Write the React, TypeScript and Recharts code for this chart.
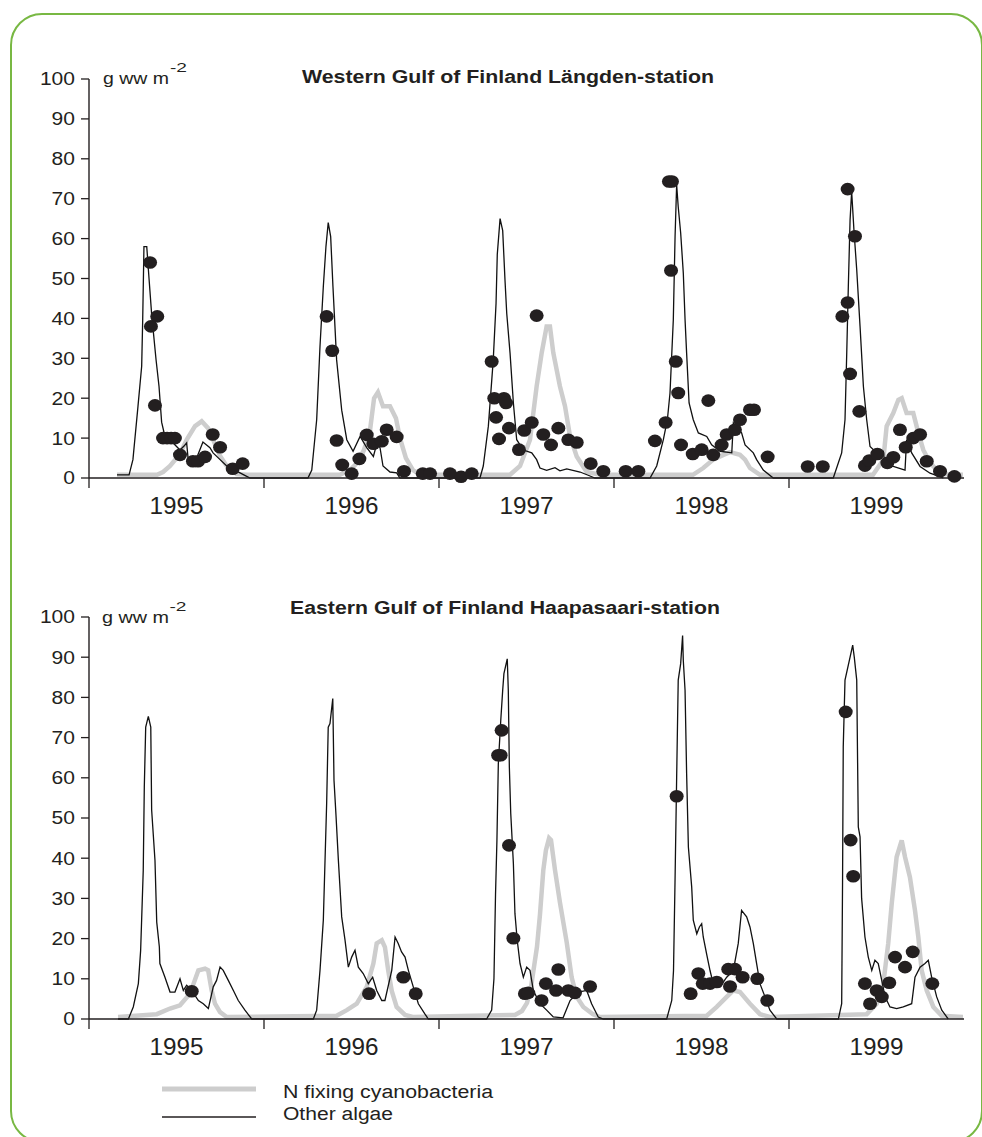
import React from "react";
import { ComposedChart, Line, Scatter, XAxis, YAxis } from "recharts";

// x values are years since 1 Jan 1995 (0 = start of 1995, 5 = end of 1999)
const years = ["1995", "1996", "1997", "1998", "1999"];
const yearTicks = [0, 0.5, 1, 1.5, 2, 2.5, 3, 3.5, 4, 4.5];
const valueTicks = [0, 10, 20, 30, 40, 50, 60, 70, 80, 90, 100];

// Western Gulf of Finland, Längden-station
const westOther = [
  [0.16, 0.8], [0.229, 0.8], [0.251, 4.6], [0.28, 18], [0.301, 28], [0.307, 40], [0.314, 58], [0.33, 58],
  [0.343, 50], [0.358, 41], [0.383, 29.7], [0.4, 23], [0.415, 14], [0.434, 10.4], [0.463, 9.6], [0.52, 7],
  [0.543, 8], [0.558, 8.8], [0.566, 5], [0.615, 5], [0.651, 9], [0.691, 7.6], [0.709, 6.3], [0.749, 4.6],
  [0.787, 3], [0.863, 1.3], [0.92, 0],
  [1.251, 0], [1.273, 2], [1.301, 14.6], [1.32, 33], [1.339, 48], [1.354, 58], [1.367, 64], [1.381, 60.5],
  [1.394, 48], [1.415, 29.6], [1.444, 17], [1.473, 9.6], [1.509, 6.7], [1.549, 10.4], [1.587, 7.6],
  [1.625, 5.4], [1.644, 8.5], [1.663, 7.6], [1.68, 3], [1.72, 1.5], [1.758, 1.3], [1.777, 0],
  [2.234, 0], [2.253, 3], [2.282, 13], [2.31, 29.6], [2.326, 43.8], [2.333, 56], [2.349, 65], [2.364, 62],
  [2.377, 49.7], [2.387, 41.3], [2.406, 31.3], [2.425, 18.8], [2.444, 9.6], [2.482, 7], [2.53, 6.3],
  [2.558, 4.6], [2.577, 2.5], [2.615, 1.9], [2.663, 2.6], [2.691, 1.8], [2.73, 2.3], [2.806, 1.5],
  [2.863, 0.5], [2.891, 0],
  [3.206, 0], [3.244, 3], [3.282, 9.6], [3.305, 14.6], [3.32, 21.3], [3.339, 39.7], [3.349, 60.6],
  [3.358, 73.5], [3.367, 68], [3.381, 61.4], [3.396, 51.4], [3.406, 39.7], [3.415, 31.3], [3.429, 18.8],
  [3.453, 14.6], [3.482, 11.3], [3.53, 10.4], [3.558, 8.3], [3.606, 6.7], [3.673, 6.3], [3.682, 13.8],
  [3.729, 11.3], [3.749, 8.3], [3.796, 6.3], [3.815, 4.6], [3.853, 2], [3.91, 0],
  [4.253, 0], [4.301, 6.3], [4.32, 14.6], [4.33, 31.4], [4.339, 48], [4.349, 64.7], [4.358, 71.8],
  [4.371, 62.2], [4.387, 52.2], [4.406, 38], [4.425, 23], [4.444, 14.6], [4.463, 7.9], [4.501, 6.3],
  [4.539, 6.7], [4.549, 3], [4.596, 2.9], [4.663, 2], [4.672, 9.6], [4.701, 6.3], [4.749, 2.9],
  [4.806, 1.2], [4.882, 0],
];

const westCyano = [
  [0.16, 0.8], [0.389, 0.8], [0.423, 1.5], [0.463, 3], [0.52, 6], [0.558, 9.6], [0.606, 13], [0.644, 14.2],
  [0.68, 12.5], [0.709, 9.6], [0.749, 5.5], [0.787, 3], [0.844, 1], [0.9, 0.8],
  [1.434, 0.8], [1.491, 2], [1.537, 4], [1.571, 7], [1.606, 12], [1.629, 20], [1.651, 21.5], [1.68, 18],
  [1.72, 18], [1.754, 15], [1.777, 10], [1.811, 5], [1.851, 2], [1.891, 0.8],
  [2.406, 0.8], [2.463, 3], [2.52, 9.6], [2.558, 23], [2.587, 31.4], [2.615, 38], [2.634, 38],
  [2.653, 31.4], [2.691, 23], [2.72, 18], [2.749, 10.4], [2.787, 5.4], [2.844, 1.5], [2.92, 0.8],
  [3.451, 0.8], [3.51, 2.5], [3.567, 4.6], [3.625, 5.8], [3.663, 6.5], [3.72, 5.8], [3.749, 4.6],
  [3.777, 2.5], [3.834, 0.8],
  [4.48, 0.8], [4.539, 4.6], [4.558, 13], [4.596, 16.3], [4.625, 19.6], [4.644, 20], [4.672, 16.3],
  [4.71, 16.3], [4.739, 11.3], [4.767, 7.1], [4.787, 5.4], [4.825, 2.9], [4.882, 1], [4.994, 0.8],
];

const westSamples = [
  [0.349, 54], [0.354, 38], [0.39, 40.5], [0.377, 18.2], [0.423, 10], [0.446, 10], [0.469, 10], [0.491, 10],
  [0.52, 5.8], [0.594, 4.2], [0.623, 4.2], [0.663, 5.3], [0.707, 10.9], [0.749, 7.7], [0.821, 2.3], [0.878, 3.6],
  [1.358, 40.5], [1.39, 31.9], [1.415, 9.4], [1.447, 3.3], [1.501, 1.1], [1.545, 4.8], [1.587, 10.8],
  [1.625, 8.6], [1.673, 9.2], [1.701, 12.1], [1.758, 10.3], [1.8, 1.7], [1.907, 1.1], [1.949, 1.1],
  [2.063, 1.1], [2.126, 0.3], [2.187, 1.1], [2.301, 29.2], [2.316, 20], [2.371, 20], [2.383, 18.8],
  [2.326, 15.2], [2.343, 9.8], [2.4, 12.5], [2.457, 7.1], [2.487, 11.9], [2.53, 13.9], [2.558, 40.7],
  [2.596, 10.9], [2.64, 8.3], [2.682, 12.5], [2.739, 9.6], [2.787, 8.9], [2.867, 3.6], [2.939, 1.7],
  [3.067, 1.7], [3.139, 1.7], [3.234, 9.3], [3.295, 13.9], [3.314, 74.3], [3.331, 74.3], [3.326, 52],
  [3.353, 29.2], [3.367, 21.3], [3.383, 8.3], [3.45, 6], [3.501, 7.1], [3.539, 19.4], [3.567, 5.8],
  [3.615, 8.3], [3.644, 10.9], [3.691, 12.1], [3.72, 14.6], [3.777, 17.1], [3.8, 17.1], [3.878, 5.3],
  [4.107, 2.9], [4.193, 2.9], [4.335, 72.4], [4.377, 60.6], [4.335, 44], [4.305, 40.5], [4.349, 26.1],
  [4.402, 16.7], [4.434, 3.1], [4.459, 4.4], [4.505, 6], [4.562, 3.8], [4.596, 5.2], [4.634, 12.1],
  [4.667, 7.7], [4.71, 10], [4.749, 10.9], [4.787, 4.2], [4.863, 1.7], [4.945, 0.4],
];

// Eastern Gulf of Finland, Haapasaari-station
const eastOther = [
  [0.166, 0], [0.225, 0], [0.253, 3], [0.282, 8.8], [0.295, 17], [0.31, 37], [0.316, 57.7], [0.324, 72.6],
  [0.339, 75.3], [0.353, 72.6], [0.358, 52], [0.377, 39.5], [0.387, 24.1], [0.402, 17.9], [0.405, 13.8],
  [0.434, 10.4], [0.463, 6.7], [0.491, 6.7], [0.52, 10], [0.539, 7.1], [0.558, 8.4], [0.587, 7.1],
  [0.625, 4.6], [0.653, 3.8], [0.682, 2.6], [0.71, 8], [0.729, 9.6], [0.749, 12.9], [0.767, 12.1],
  [0.796, 9.6], [0.825, 7.1], [0.853, 4.6], [0.891, 2.2], [0.93, 0],
  [1.282, 0], [1.301, 2.2], [1.32, 12.1], [1.339, 24.6], [1.358, 53.6], [1.367, 72.6], [1.377, 73.5],
  [1.393, 79.7], [1.4, 59.4], [1.411, 51], [1.425, 39.5], [1.444, 25.4], [1.463, 19.6], [1.482, 12.9],
  [1.501, 15.4], [1.52, 17.1], [1.539, 12.9], [1.567, 11.3], [1.596, 8.8], [1.621, 10.4], [1.644, 7.1],
  [1.673, 4.6], [1.691, 4.6], [1.73, 12.1], [1.749, 20.4], [1.767, 18.8], [1.786, 16.7], [1.806, 15.4],
  [1.825, 12.1], [1.853, 8], [1.882, 3.8], [1.92, 1.2], [1.939, 0],
  [2.272, 0], [2.301, 2.2], [2.314, 10], [2.323, 31], [2.331, 44.4], [2.339, 63.5], [2.353, 74.3],
  [2.364, 81.8], [2.371, 85.9], [2.39, 89.6], [2.396, 81.8], [2.402, 62.7], [2.41, 51.1], [2.425, 38.7],
  [2.434, 26.2], [2.447, 19.6], [2.463, 13.8], [2.482, 10.4], [2.501, 12.9], [2.52, 12.1], [2.539, 7.1],
  [2.577, 3.8], [2.615, 2.2], [2.653, 0.5], [2.709, 0.3], [2.749, 4.6], [2.796, 6.7], [2.844, 7.1],
  [2.872, 3.8], [2.91, 0.5], [2.939, 0],
  [3.301, 0], [3.33, 4.6], [3.34, 12], [3.349, 35], [3.358, 60], [3.367, 84.3], [3.381, 88.4],
  [3.392, 95.4], [3.396, 89.2], [3.406, 81.8], [3.415, 61], [3.425, 42.8], [3.444, 32.8], [3.453, 24.6],
  [3.473, 21.2], [3.488, 22.9], [3.501, 23.7], [3.51, 20.4], [3.53, 16], [3.549, 12], [3.567, 8.8],
  [3.606, 8], [3.644, 10.4], [3.682, 12.1], [3.71, 18.8], [3.729, 27], [3.758, 25.4], [3.777, 22.9],
  [3.796, 18.8], [3.815, 13.8], [3.834, 8.8], [3.863, 5.5], [3.891, 2.2], [3.93, 0],
  [4.282, 0], [4.301, 3.8], [4.306, 34], [4.31, 67.7], [4.32, 84.3], [4.349, 90], [4.364, 93], [4.373, 90],
  [4.387, 84.3], [4.396, 47.8], [4.406, 45.3], [4.415, 30], [4.434, 20.4], [4.453, 15.4], [4.473, 12.1],
  [4.491, 14.6], [4.51, 13.8], [4.53, 9.6], [4.549, 5.5], [4.577, 3], [4.615, 2.6], [4.653, 3],
  [4.701, 3.8], [4.72, 10.4], [4.749, 12.9], [4.777, 13.8], [4.796, 14.6], [4.815, 10.4], [4.844, 5.5],
  [4.873, 2.2], [4.91, 0],
];

const eastCyano = [
  [0.166, 0.5], [0.387, 1.2], [0.463, 2.6], [0.52, 3.4], [0.577, 6.3], [0.625, 12.1], [0.663, 12.5],
  [0.681, 12.1], [0.701, 7.1], [0.72, 3.8], [0.749, 1.7], [0.787, 0.5],
  [1.415, 0.8], [1.473, 2.2], [1.53, 3.8], [1.587, 8], [1.625, 13.8], [1.644, 18.8], [1.673, 19.6],
  [1.691, 17.9], [1.71, 12], [1.73, 7], [1.758, 3], [1.806, 1], [1.85, 0.5],
  [2.434, 1], [2.474, 2], [2.503, 4], [2.526, 8], [2.543, 13], [2.56, 18], [2.577, 26], [2.596, 37],
  [2.611, 42], [2.629, 45], [2.64, 44.5], [2.663, 37], [2.691, 29], [2.73, 19], [2.758, 10.4],
  [2.787, 5.5], [2.825, 3], [2.88, 1.2], [2.92, 0.5],
  [3.53, 0.8], [3.587, 3], [3.644, 5.5], [3.682, 7.1], [3.72, 6.7], [3.777, 3.8], [3.834, 1.2], [3.891, 0.5],
  [4.444, 1.2], [4.501, 3.8], [4.539, 8.8], [4.567, 18.8], [4.587, 28.7], [4.615, 40.3], [4.644, 44.4],
  [4.663, 40.3], [4.691, 35.3], [4.72, 27], [4.739, 20.4], [4.758, 12.1], [4.787, 7.1], [4.825, 3],
  [4.873, 0.8], [4.994, 0.5],
];

const eastSamples = [
  [0.587, 6.9],
  [1.6, 6.3], [1.796, 10.4], [1.867, 6.3],
  [2.358, 71.8], [2.338, 65.6], [2.352, 65.6], [2.4, 43.2], [2.425, 20.1], [2.491, 6.3], [2.51, 6.5],
  [2.586, 4.6], [2.611, 8.8], [2.669, 7.1], [2.682, 12.3], [2.739, 7.1], [2.777, 6.5], [2.863, 8.1],
  [3.358, 55.4], [3.438, 6.3], [3.482, 11.3], [3.507, 8.8], [3.549, 8.8], [3.587, 9.2], [3.653, 12.4],
  [3.691, 12.4], [3.663, 8.1], [3.735, 10.4], [3.819, 10], [3.876, 4.6],
  [4.324, 76.4], [4.352, 44.5], [4.367, 35.5], [4.434, 8.8], [4.463, 3.8], [4.501, 7.1], [4.53, 5.5],
  [4.573, 9], [4.606, 15.4], [4.663, 12.9], [4.707, 16.7], [4.819, 8.8],
];

const FONT = '"Liberation Sans", Arial, Helvetica, sans-serif';
const INK = "#231f20";
const GREY = "#cdcdcd";

const toPoints = (arr: number[][]) => arr.map(([t, v]) => ({ t, v }));

// ticks at year boundaries, year label in the middle of each year
const YearTick = (props: any) => {
  const { x, y, payload } = props;
  const val = payload.value;
  if (Number.isInteger(val)) {
    return <line x1={x} y1={y} x2={x} y2={y + 10} stroke={INK} strokeWidth={1.3} />;
  }
  return (
    <text x={x} y={y + 36} textAnchor="middle" fontSize={23} fontFamily={FONT} fill={INK}
      textLength={54} lengthAdjust="spacingAndGlyphs">
      {years[Math.floor(val)]}
    </text>
  );
};

const ValueTick = (props: any) => {
  const { x, y, payload } = props;
  const label = String(payload.value);
  return (
    <text x={x} y={y} dy="0.36em" textAnchor="end" fontSize={18} fontFamily={FONT} fill={INK}
      textLength={label.length * 11.7} lengthAdjust="spacingAndGlyphs">
      {label}
    </text>
  );
};

const SampleDot = (props: any) => (
  <ellipse cx={props.cx} cy={props.cy} rx={7} ry={6.3} fill={INK} />
);

interface PanelProps {
  top: number;
  marginTop: number;
  marginBottom: number;
  other: number[][];
  cyano: number[][];
  samples: number[][];
}

const Panel = ({ top, marginTop, marginBottom, other, cyano, samples }: PanelProps) => (
  <div style={{ position: "absolute", left: 0, top, width: 982, height: 540 }}>
    <ComposedChart width={982} height={540}
      margin={{ top: marginTop, right: 18, bottom: marginBottom, left: 29 }}>
      <XAxis type="number" dataKey="t" domain={[0, 5]} ticks={yearTicks} interval={0}
        tickSize={0} tickMargin={0} tickLine={false} tick={<YearTick />}
        axisLine={{ stroke: INK, strokeWidth: 1.4 }} height={50} />
      <YAxis type="number" dataKey="v" domain={[0, 100]} ticks={valueTicks} interval={0}
        tickSize={8} tickMargin={6} tick={<ValueTick />} width={60}
        axisLine={{ stroke: INK, strokeWidth: 1.4 }} tickLine={{ stroke: INK, strokeWidth: 1.3 }} />
      <Line data={toPoints(cyano)} dataKey="v" type="linear" stroke={GREY} strokeWidth={4.5}
        dot={false} activeDot={false} isAnimationActive={false} />
      <Line data={toPoints(other)} dataKey="v" type="linear" stroke="#111" strokeWidth={1.3}
        dot={false} activeDot={false} isAnimationActive={false} />
      <Scatter data={toPoints(samples)} dataKey="v" shape={SampleDot} isAnimationActive={false} />
    </ComposedChart>
  </div>
);

export default function App() {
  return (
    <div style={{ position: "absolute", left: 0, top: 0, width: 982, height: 1137, overflow: "hidden", background: "#fff" }}>
      <div style={{
        position: "absolute", left: 10, top: 13, width: 973, height: 1130, boxSizing: "border-box",
        border: "2.5px solid #78b843", borderRadius: 32,
      }} />
      <Panel top={0} marginTop={79} marginBottom={12} other={westOther} cyano={westCyano} samples={westSamples} />
      <Panel top={540} marginTop={77} marginBottom={11} other={eastOther} cyano={eastCyano} samples={eastSamples} />
      <svg width={982} height={1137} style={{ position: "absolute", left: 0, top: 0, pointerEvents: "none" }}
        fontFamily={FONT} fill={INK}>
        <text x={302} y={83} fontSize={18} fontWeight="bold" textLength={412} lengthAdjust="spacingAndGlyphs">
          Western Gulf of Finland Längden-station
        </text>
        <text x={103} y={84} fontSize={17} textLength={66} lengthAdjust="spacingAndGlyphs">g ww m</text>
        <text x={170} y={72} fontSize={12} textLength={17} lengthAdjust="spacingAndGlyphs">-2</text>

        <text x={290} y={614} fontSize={18} fontWeight="bold" textLength={430} lengthAdjust="spacingAndGlyphs">
          Eastern Gulf of Finland Haapasaari-station
        </text>
        <text x={102} y={623} fontSize={17} textLength={67} lengthAdjust="spacingAndGlyphs">g ww m</text>
        <text x={169.5} y={611} fontSize={12} textLength={17} lengthAdjust="spacingAndGlyphs">-2</text>

        <line x1={162} y1={1089} x2={256} y2={1089} stroke={GREY} strokeWidth={5} />
        <line x1={162} y1={1117} x2={256} y2={1117} stroke={INK} strokeWidth={1.3} />
        <text x={283} y={1098} fontSize={18} textLength={210} lengthAdjust="spacingAndGlyphs">N fixing cyanobacteria</text>
        <text x={283} y={1120} fontSize={18} textLength={110} lengthAdjust="spacingAndGlyphs">Other algae</text>
      </svg>
    </div>
  );
}
